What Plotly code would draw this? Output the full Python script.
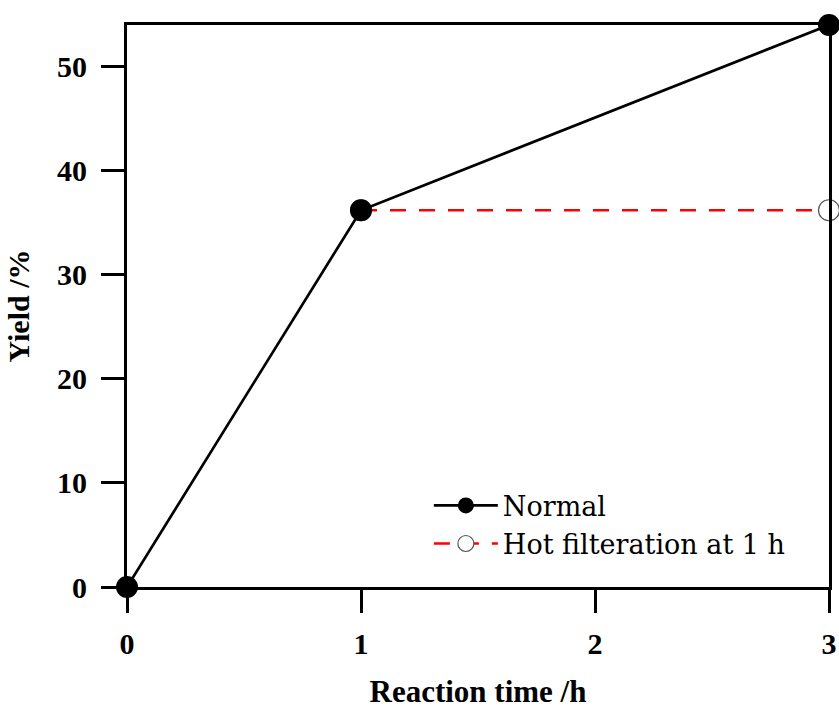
import plotly.graph_objects as go

time_normal = [0, 1, 3]
yield_normal = [0, 36.2, 54.0]
time_hot = [1, 3]
yield_hot = [36.2, 36.2]
x_ticks = [0, 1, 2, 3]
y_ticks = [0, 10, 20, 30, 40, 50]

SERIF = "Liberation Serif"

fig = go.Figure()
fig.add_trace(go.Scatter(
    x=time_hot, y=yield_hot, name="Hot filteration at 1 h", mode="lines+markers",
    line=dict(color="#ff0000", width=2.5, dash="16px,13px"),
    marker=dict(symbol="circle", size=21, color="white", line=dict(color="#555555", width=1.2)),
    cliponaxis=False,
))
fig.add_trace(go.Scatter(
    x=time_normal, y=yield_normal, name="Normal", mode="lines+markers",
    line=dict(color="black", width=2.7),
    marker=dict(symbol="circle", size=22, color="black"),
    cliponaxis=False,
))

fig.update_layout(
    width=839, height=711,
    margin=dict(l=127, r=10, t=25, b=124),
    plot_bgcolor="white", paper_bgcolor="white",
    font=dict(family=SERIF, color="black"),
    showlegend=True,
    legend=dict(
        x=0.43, y=0.188, xanchor="left", yanchor="top",
        font=dict(family="DejaVu Serif", size=27, color="black"),
        bgcolor="rgba(0,0,0,0)", traceorder="reversed",
        itemwidth=64, tracegroupgap=0,
    ),
    xaxis=dict(
        range=[0, 3], tickvals=x_ticks, ticks="outside", ticklen=23, tickwidth=3,
        tickcolor="black", showline=True, linecolor="black", linewidth=3, mirror=True,
        showgrid=False, zeroline=False, automargin=False,
        tickfont=dict(family=SERIF, size=30, color="black", weight="bold"),
        ticklabelstandoff=5,
        title=dict(text="<b>Reaction time /h</b>", font=dict(family=SERIF, size=31, color="black"), standoff=22),
    ),
    yaxis=dict(
        range=[0, 54], tickvals=y_ticks, ticks="outside", ticklen=23, tickwidth=3,
        tickcolor="black", showline=True, linecolor="black", linewidth=3, mirror=True,
        showgrid=False, zeroline=False, automargin=False,
        tickfont=dict(family=SERIF, size=30, color="black", weight="bold"),
        ticklabelstandoff=8,
        title=dict(text="<b>Yield /%</b>", font=dict(family=SERIF, size=30, color="black"), standoff=19),
    ),
)

fig.write_html("out.html")
